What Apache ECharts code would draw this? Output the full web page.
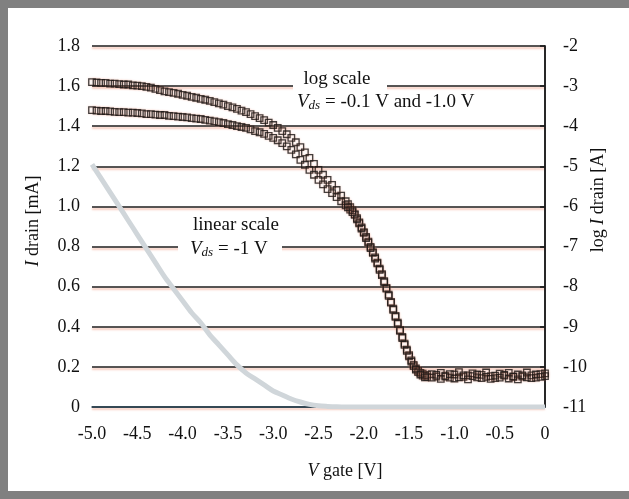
<!DOCTYPE html>
<html>
<head>
<meta charset="utf-8">
<script src="https://cdn.jsdelivr.net/npm/echarts@6/dist/echarts.min.js"></script>
<style>
html,body{margin:0;padding:0;background:#fff;}
#c{width:629px;height:499px;}
</style>
</head>
<body>
<div id="c"></div>
<script>
// Gate voltage sampling for the log-scale measurements [V]
var vGate = [-5.00,-4.95,-4.90,-4.85,-4.80,-4.75,-4.70,-4.65,-4.60,-4.55,
  -4.50,-4.45,-4.40,-4.35,-4.30,-4.25,-4.20,-4.15,-4.10,-4.05,
  -4.00,-3.95,-3.90,-3.85,-3.80,-3.75,-3.70,-3.65,-3.60,-3.55,
  -3.50,-3.45,-3.40,-3.35,-3.30,-3.25,-3.20,-3.15,-3.10,-3.05,
  -3.00,-2.95,-2.90,-2.85,-2.80,-2.75,-2.70,-2.65,-2.60,-2.55,
  -2.50,-2.45,-2.40,-2.35,-2.30,-2.25,-2.20,-2.15,-2.10,-2.05,
  -2.00,-1.95,-1.90,-1.85,-1.80,-1.75,-1.70,-1.65,-1.60,-1.55,
  -1.50,-1.45,-1.40,-1.35,-1.30,-1.25,-1.20,-1.15,-1.10,-1.05,
  -1.00,-0.95,-0.90,-0.85,-0.80,-0.75,-0.70,-0.65,-0.60,-0.55,
  -0.50,-0.45,-0.40,-0.35,-0.30,-0.25,-0.20,-0.15,-0.10,-0.05,0.00];

// log I drain [A], Vds = -1.0 V (upper curve)
var logVds10 = [-2.90,-2.91,-2.92,-2.92,-2.94,-2.94,-2.95,-2.96,-2.96,-2.98,
  -2.99,-3.00,-3.02,-3.04,-3.07,-3.10,-3.13,-3.15,-3.17,-3.19,
  -3.22,-3.24,-3.27,-3.29,-3.32,-3.34,-3.37,-3.40,-3.43,-3.46,
  -3.50,-3.53,-3.57,-3.61,-3.65,-3.70,-3.75,-3.80,-3.85,-3.91,
  -3.97,-4.04,-4.12,-4.20,-4.29,-4.40,-4.52,-4.65,-4.79,-4.94,
  -5.09,-5.21,-5.34,-5.46,-5.59,-5.73,-5.87,-6.02,-6.19,-6.40,
  -6.64,-6.88,-7.14,-7.40,-7.69,-8.03,-8.38,-8.73,-9.08,-9.42,
  -9.71,-9.95,-10.10,-10.17,-10.20,
  -10.18,-10.24,-10.15,-10.22,-10.27,-10.19,-10.13,-10.25,-10.21,-10.16,
  -10.26,-10.20,-10.14,-10.23,-10.28,-10.17,-10.22,-10.15,-10.25,-10.19,
  -10.24,-10.14,-10.21,-10.27,-10.18,-10.16];

// log I drain [A], Vds = -0.1 V (lower curve)
var logVds01 = [-3.60,-3.61,-3.62,-3.62,-3.63,-3.64,-3.65,-3.65,-3.66,-3.66,
  -3.67,-3.68,-3.70,-3.70,-3.71,-3.72,-3.72,-3.74,-3.75,-3.76,
  -3.77,-3.78,-3.80,-3.81,-3.82,-3.84,-3.86,-3.88,-3.90,-3.92,
  -3.95,-3.97,-4.00,-4.02,-4.04,-4.08,-4.12,-4.15,-4.19,-4.24,
  -4.29,-4.35,-4.42,-4.50,-4.59,-4.70,-4.84,-4.96,-5.09,-5.21,
  -5.34,-5.45,-5.57,-5.67,-5.77,-5.87,-5.97,-6.08,-6.21,-6.42,
  -6.66,-6.90,-7.16,-7.42,-7.71,-8.05,-8.40,-8.75,-9.10,-9.45,
  -9.74,-9.98,-10.13,-10.22,-10.25,
  -10.27,-10.20,-10.30,-10.24,-10.18,-10.29,-10.26,-10.21,-10.31,-10.23,
  -10.19,-10.28,-10.25,-10.30,-10.22,-10.27,-10.20,-10.29,-10.24,-10.31,
  -10.21,-10.26,-10.28,-10.19,-10.25,-10.23];

// Extra readings in the steep (merged) part of both log curves
var steepV = [-2.175,-2.125,-2.075,-2.025,-1.975,-1.925,-1.875,-1.825,-1.775,-1.725,
  -1.675,-1.625,-1.575,-1.525,-1.475,-1.425,-1.375,-1.325];
var steepLog10 = [-5.94,-6.10,-6.29,-6.52,-6.76,-7.01,-7.27,-7.55,-7.86,-8.20,
  -8.55,-8.90,-9.25,-9.57,-9.84,-10.04,-10.15,-10.22];
var steepLog01 = [-6.02,-6.14,-6.32,-6.55,-6.79,-7.04,-7.30,-7.58,-7.89,-8.23,
  -8.58,-8.93,-9.28,-9.60,-9.87,-10.07,-10.19,-10.26];

// Linear scale, Vds = -1 V: gate voltage [V] and I drain [mA]
var linV = [-5.0,-4.9,-4.8,-4.7,-4.6,-4.5,-4.4,-4.3,-4.2,-4.1,-4.0,-3.9,-3.8,-3.7,-3.6,-3.5,-3.4,-3.3,-3.2,-3.1,-3.0,-2.9,-2.8,-2.7,-2.6,-2.5,-2.4,-2.3,-2.2,-1.5,-1.0,-0.5,0];
var linI = [1.21,1.14,1.07,1.00,0.93,0.86,0.79,0.72,0.65,0.59,0.53,0.47,0.42,0.36,0.31,0.26,0.21,0.17,0.14,0.11,0.08,0.06,0.04,0.025,0.013,0.006,0.003,0.001,0,0,0,0,0];

// Tick labels
var xTicks = ['-5.0','-4.5','-4.0','-3.5','-3.0','-2.5','-2.0','-1.5','-1.0','-0.5','0'];
var yLeftTicks = ['0','0.2','0.4','0.6','0.8','1.0','1.2','1.4','1.6','1.8'];
var yRightTicks = ['-11','-10','-9','-8','-7','-6','-5','-4','-3','-2'];

function pairs(xs, ys){ var o=[]; for(var i=0;i<xs.length;i++) o.push([xs[i], ys[i]]); return o; }

var FONT = 'Liberation Serif';
var chart = echarts.init(document.getElementById('c'), null, {renderer:'canvas'});
var markerStyle = {color:'rgba(0,0,0,0)', borderColor:'#141414', borderWidth:1.3,
  shadowColor:'rgba(230,130,100,0.5)', shadowBlur:2};

function logSeries(name, xs, ys){
  return {type:'scatter', name:name, yAxisIndex:1, data:pairs(xs, ys),
    symbol:'rect', symbolSize:6.5, itemStyle:markerStyle, z:4};
}

chart.setOption({
  backgroundColor:'#ffffff',
  animation:false,
  grid:{left:92, right:84, top:46, bottom:92},
  xAxis:{type:'value', min:-5, max:0, interval:0.5,
    axisLine:{show:true, onZero:false, lineStyle:{color:'#2b4556', width:1.5}},
    axisTick:{show:false},
    splitLine:{show:false},
    axisLabel:{margin:18, fontFamily:FONT, fontSize:18, color:'#111',
      formatter:function(v){ return xTicks[Math.round((v+5)/0.5)]; }}
  },
  yAxis:[
    {type:'value', min:0, max:1.8, interval:0.2, position:'left',
      axisLine:{show:true, lineStyle:{color:'#1a1a1a', width:1.5}},
      axisTick:{show:true, length:5, lineStyle:{color:'#1a1a1a', width:1.5}},
      axisLabel:{margin:12, fontFamily:FONT, fontSize:18, color:'#111',
        formatter:function(v){ return yLeftTicks[Math.round(v/0.2)]; }},
      splitLine:{show:true, lineStyle:{color:'#1e1e1e', width:1.6,
        shadowColor:'rgba(235,140,110,0.6)', shadowBlur:2, shadowOffsetY:2}}
    },
    {type:'value', min:-11, max:-2, interval:1, position:'right',
      axisLine:{show:true, lineStyle:{color:'#1a1a1a', width:1.5}},
      axisTick:{show:false},
      axisLabel:{margin:18, fontFamily:FONT, fontSize:18, color:'#111',
        formatter:function(v){ return yRightTicks[Math.round(v+11)]; }},
      splitLine:{show:false}
    }
  ],
  series:[
    {type:'line', name:'linear', xAxisIndex:0, yAxisIndex:0, data:pairs(linV, linI),
      showSymbol:false, smooth:0.3, z:3,
      lineStyle:{color:'#d0d6da', width:5}},
    logSeries('Vds -1.0', vGate, logVds10),
    logSeries('Vds -0.1', vGate, logVds01),
    logSeries('Vds -1.0 steep', steepV, steepLog10),
    logSeries('Vds -0.1 steep', steepV, steepLog01)
  ],
  graphic:[
    {type:'rect', z:100, shape:{x:0,y:0,width:8,height:499}, style:{fill:'#808080'}},
    {type:'rect', z:100, shape:{x:0,y:0,width:629,height:8}, style:{fill:'#808080'}},
    {type:'rect', z:100, shape:{x:0,y:491,width:629,height:8}, style:{fill:'#808080'}},
    {type:'rect', z:1, shape:{x:293,y:68,width:94,height:44}, style:{fill:'#ffffff'}},
    {type:'rect', z:1, shape:{x:178,y:212,width:104,height:50}, style:{fill:'#ffffff'}},
    {type:'text', z:5, x:337, y:79, style:{text:'log scale', font:'19px "Liberation Serif"', fill:'#111', textAlign:'center', textVerticalAlign:'middle'}},
    {type:'text', z:5, x:297, y:102, style:{text:'{i|V}{s|ds} = -0.1 V and -1.0 V', font:'19px "Liberation Serif"', fill:'#111', textAlign:'left', textVerticalAlign:'middle',
      rich:{i:{fontStyle:'italic', fontFamily:FONT, fontSize:19}, s:{fontStyle:'italic', fontFamily:FONT, fontSize:13, verticalAlign:'bottom', padding:[8,0,0,0]}}}},
    {type:'text', z:5, x:236, y:225, style:{text:'linear scale', font:'19px "Liberation Serif"', fill:'#111', textAlign:'center', textVerticalAlign:'middle'}},
    {type:'text', z:5, x:190, y:249, style:{text:'{i|V}{s|ds} = -1 V', font:'19px "Liberation Serif"', fill:'#111', textAlign:'left', textVerticalAlign:'middle',
      rich:{i:{fontStyle:'italic', fontFamily:FONT, fontSize:19}, s:{fontStyle:'italic', fontFamily:FONT, fontSize:13, verticalAlign:'bottom', padding:[8,0,0,0]}}}},
    {type:'text', z:5, x:33, y:221, rotation:Math.PI/2, style:{text:'{i|I} drain [mA]', font:'18px "Liberation Serif"', fill:'#111', textAlign:'center', textVerticalAlign:'middle',
      rich:{i:{fontStyle:'italic', fontFamily:FONT, fontSize:18}}}},
    {type:'text', z:5, x:598, y:200, rotation:Math.PI/2, style:{text:'log {i|I} drain [A]', font:'18px "Liberation Serif"', fill:'#111', textAlign:'center', textVerticalAlign:'middle',
      rich:{i:{fontStyle:'italic', fontFamily:FONT, fontSize:18}}}},
    {type:'text', z:5, x:345, y:471, style:{text:'{i|V} gate [V]', font:'18px "Liberation Serif"', fill:'#111', textAlign:'center', textVerticalAlign:'middle',
      rich:{i:{fontStyle:'italic', fontFamily:FONT, fontSize:18}}}}
  ]
});
</script>
</body>
</html>
